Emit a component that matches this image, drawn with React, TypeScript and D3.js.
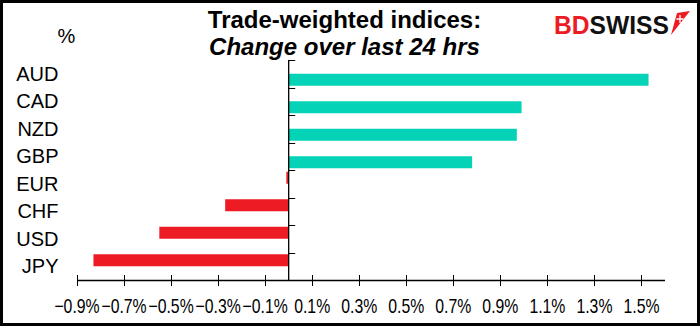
import * as React from "react";
import * as d3 from "d3";

// data (percent change, last 24 hrs)
const currencies = ["AUD", "CAD", "NZD", "GBP", "EUR", "CHF", "USD", "JPY"];
const changes = [1.53, 0.99, 0.97, 0.78, -0.01, -0.27, -0.55, -0.83];
const xTickValues = [-0.9, -0.7, -0.5, -0.3, -0.1, 0.1, 0.3, 0.5, 0.7, 0.9, 1.1, 1.3, 1.5];
const titleLines = ["Trade-weighted indices:", "Change over last 24 hrs"];

const W = 700, H = 326;
const plot = {left: 77, right: 665, top: 60, bottom: 280};
const green = "#05D3B7";
const red = "#ED1C24";
const font = "'Liberation Sans', Arial, sans-serif";

export default function App() {
    const x = d3.scaleLinear().domain([-0.9, 1.6]).range([plot.left, plot.right]);
    const y = d3.scaleBand().domain(currencies).range([plot.top, plot.bottom]).padding(0);
    // two slots per category, like a clustered bar with a positive and a negative series
    const slot = d3.scaleBand().domain(["neg", "pos"]).range([0, y.bandwidth()])
        .paddingInner(0).paddingOuter(0.146);
    const fmt = (v: number) => d3.format(".1f")(v) + "%";
    const x0 = x(0);

    return (
        <svg width={W} height={H} style={{position: "absolute", left: 0, top: 0, fontFamily: font}}>
            <rect x={1.5} y={1.5} width={W - 3} height={H - 3} fill="#fff" stroke="#000" strokeWidth={3}/>

            {/* title */}
            <text x={344.5} y={27.5} textAnchor="middle" fontSize={24} fontWeight="bold">{titleLines[0]}</text>
            <text x={344.5} y={55} textAnchor="middle" fontSize={24} fontWeight="bold" fontStyle="italic">{titleLines[1]}</text>

            {/* logo */}
            <text x={554} y={34} fontSize={25} fontWeight="bold" textLength={115} lengthAdjust="spacingAndGlyphs">
                <tspan fill={red}>BD</tspan><tspan fill="#111">SWISS</tspan>
            </text>
            <path d="M671,35 L677,13 L690,11 Z" fill={red}/>
            <path d="M680,15 L680,23 M676.5,19 L683.5,19" stroke="#fff" strokeWidth={1.3}/>

            <text x={66.5} y={43} textAnchor="middle" fontSize={20}>%</text>

            {/* bars */}
            {currencies.map((c, i) => {
                const v = changes[i];
                const key = v < 0 ? "neg" : "pos";
                return <rect key={c}
                             x={Math.min(x(v), x0)} width={Math.abs(x(v) - x0)}
                             y={(y(c) as number) + (slot(key) as number)} height={slot.bandwidth()}
                             fill={v < 0 ? red : green}/>;
            })}

            {/* category axis at zero */}
            <line x1={x0} x2={x0} y1={plot.top} y2={plot.bottom} stroke="#000" strokeWidth={1.3}/>
            {currencies.map(c => {
                const ty = Math.round(y(c) as number) + 0.5;
                return <line key={"t" + c} x1={x0} x2={x0 + 6.5} y1={ty} y2={ty} stroke="#000" strokeWidth={1}/>;
            })}
            {currencies.map(c => (
                <text key={"l" + c} x={58.5} y={(y(c) as number) + y.bandwidth() / 2} dy="0.36em"
                      textAnchor="end" fontSize={20}>{c}</text>
            ))}

            {/* value axis */}
            <line x1={plot.left} x2={plot.right} y1={280.5} y2={280.5} stroke="#000" strokeWidth={1.3}/>
            {xTickValues.map(v => {
                const tx = Math.round(x(v)) + 0.5;
                return <g key={"x" + v}>
                    <line x1={tx} x2={tx} y1={275} y2={286} stroke="#000" strokeWidth={1}/>
                    <text transform={`translate(${x(v)},313) scale(0.79,1)`} textAnchor="middle" fontSize={20}>
                        {fmt(v)}
                    </text>
                </g>;
            })}
        </svg>
    );
}
